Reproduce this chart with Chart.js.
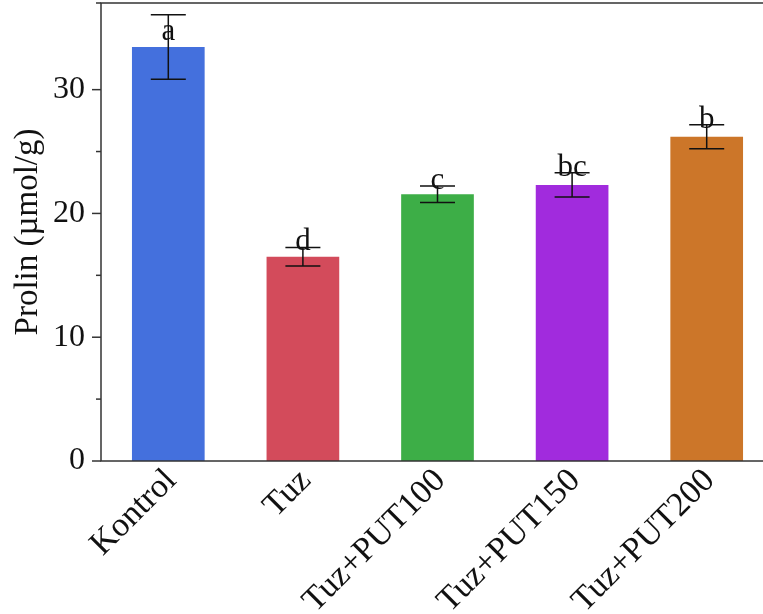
<!DOCTYPE html>
<html>
<head>
<meta charset="utf-8">
<script src="https://cdn.jsdelivr.net/npm/chart.js@4/dist/chart.umd.min.js"></script>
<style>
  html, body { margin: 0; padding: 0; background: #fff; overflow: hidden; }
  #wrap { width: 776px; height: 614px; }
</style>
</head>
<body>
<div id="wrap"><canvas id="chart"></canvas></div>
<script>
// data
const groups = ["Kontrol", "Tuz", "Tuz+PUT100", "Tuz+PUT150", "Tuz+PUT200"];
const prolin = [33.45, 16.5, 21.55, 22.3, 26.2];
const errors = [2.6, 0.75, 0.66, 0.98, 0.97];
const letters = ["a", "d", "c", "bc", "b"];
const barColors = ["#4470DD", "#D34B5B", "#3DAE47", "#A12BDD", "#CC7629"];
const yTicks = [0, 10, 20, 30];

const SERIF = "'Liberation Serif', 'Times New Roman', serif";

// box, minor ticks, error bars, letters
const extras = {
  id: "extras",
  afterDatasetsDraw(chart) {
    const { ctx, chartArea: a, scales: { x, y } } = chart;
    ctx.save();
    ctx.strokeStyle = "#111";
    ctx.lineWidth = 1.5;
    groups.forEach((g, i) => {
      const cx = x.getPixelForValue(i);
      const hi = y.getPixelForValue(prolin[i] + errors[i]);
      const lo = y.getPixelForValue(prolin[i] - errors[i]);
      ctx.beginPath();
      ctx.moveTo(cx, hi); ctx.lineTo(cx, lo);
      ctx.moveTo(cx - 17.5, hi); ctx.lineTo(cx + 17.5, hi);
      ctx.moveTo(cx - 17.5, lo); ctx.lineTo(cx + 17.5, lo);
      ctx.stroke();
      ctx.fillStyle = "#111";
      ctx.font = "31px " + SERIF;
      ctx.textAlign = "center";
      ctx.textBaseline = "alphabetic";
      ctx.fillText(letters[i], cx, Math.max(hi + 3, a.top + 37));
    });
    // frame
    ctx.strokeStyle = "#333";
    ctx.lineWidth = 1.5;
    ctx.strokeRect(a.left, a.top, a.right - a.left, a.bottom - a.top);
    // y tick marks, major + minor
    y.ticks.forEach((t) => {
      const py = y.getPixelForValue(t.value);
      const len = t.value % 10 === 0 ? 9 : 5;
      ctx.beginPath();
      ctx.moveTo(a.left - len, py); ctx.lineTo(a.left, py);
      ctx.stroke();
    });
    ctx.restore();
  },
};

new Chart(document.getElementById("chart"), {
  type: "bar",
  data: {
    labels: groups,
    datasets: [{
      data: prolin,
      backgroundColor: barColors,
      borderWidth: 0,
      categoryPercentage: 1,
      barPercentage: 0.54,
    }],
  },
  options: {
    responsive: true,
    maintainAspectRatio: false,
    animation: false,
    layout: { padding: { top: 3, right: 2, left: 0, bottom: 0 } },
    plugins: { legend: { display: false }, tooltip: { enabled: false } },
    scales: {
      x: {
        grid: { display: false, drawTicks: false },
        border: { display: false },
        ticks: {
          color: "#111",
          font: { family: SERIF, size: 34 },
          minRotation: 45,
          maxRotation: 45,
          padding: 0,
          labelOffset: 3,
        },
        afterFit(s) {
          s.height = 153;
          s.paddingLeft = 0;
          s.paddingRight = 0;
        },
      },
      y: {
        min: 0,
        max: 37,
        grid: { display: false, drawTicks: false },
        border: { display: false },
        ticks: {
          stepSize: 5,
          color: "#111",
          font: { family: SERIF, size: 32 },
          padding: 16,
          callback: (v) => (yTicks.includes(v) ? String(v) : ""),
        },
        title: {
          display: true,
          text: "Prolin (µmol/g)",
          color: "#111",
          font: { family: SERIF, size: 33 },
          padding: { top: 9, bottom: 0 },
        },
        afterFit(s) {
          s.width = 101;
          s.paddingTop = 0;
          s.paddingBottom = 0;
        },
      },
    },
  },
  plugins: [extras],
});
</script>
</body>
</html>
